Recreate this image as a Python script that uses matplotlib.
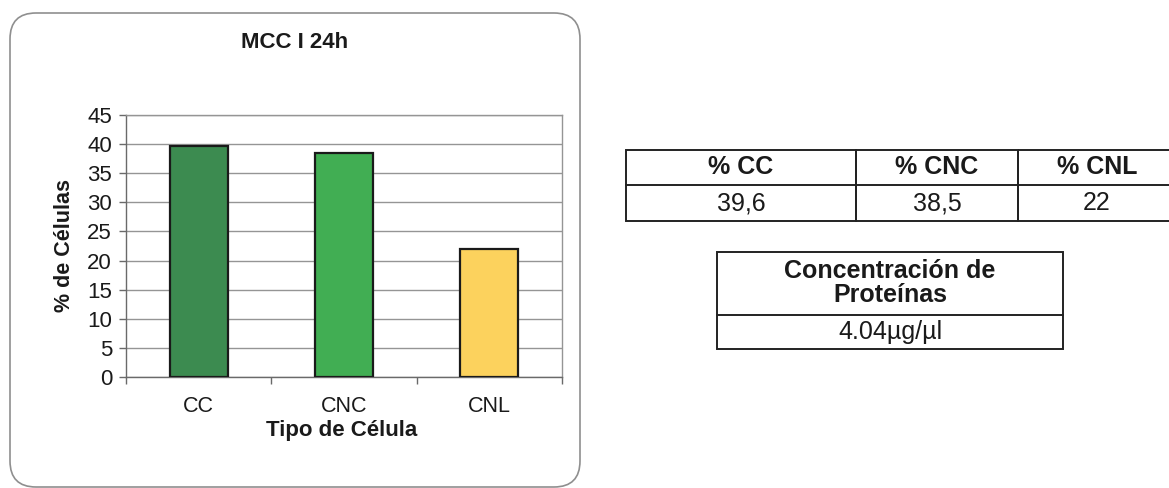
import matplotlib
matplotlib.use("Agg")
import matplotlib.pyplot as plt
from matplotlib.patches import FancyBboxPatch, Rectangle

plt.rcParams["font.family"] = ["Liberation Sans", "DejaVu Sans"]

# Chart data
categories = ["CC", "CNC", "CNL"]
percent = [39.6, 38.5, 22]
bar_colors = ["#3c8b50", "#41ae53", "#fcd25d"]

# Table data
table_headers = ["% CC", "% CNC", "% CNL"]
protein_header = ["Concentración de", "Proteínas"]
protein_conc = 4.04

W, H = 1169, 488
fig = plt.figure(figsize=(W / 100, H / 100), dpi=100)

# Background layer in pixel coordinates (y down), for the chart frame and tables.
bg = fig.add_axes([0, 0, 1, 1], zorder=0)
bg.set_xlim(0, W)
bg.set_ylim(H, 0)
bg.axis("off")

frame = FancyBboxPatch((10, 13), 570, 474,
                       boxstyle="round,pad=0,rounding_size=26",
                       facecolor="white", edgecolor="#8f8f8f", linewidth=1.2)
bg.add_patch(frame)

fig.text(295 / W, 1 - 42 / H, "MCC I 24h", ha="center", va="center",
         fontsize=16, fontweight="bold", color="#1a1a1a")

# Bar chart
ax = fig.add_axes([126 / W, 1 - 377 / H, 436 / W, 262 / H], zorder=2)
ax.set_facecolor("none")
x = list(range(len(categories)))
ax.bar(x, percent, width=0.4, color=bar_colors, edgecolor="#1a1a1a",
       linewidth=1.6, zorder=3)
ax.set_xlim(-0.5, len(categories) - 0.5)
ax.set_ylim(0, 45)
ax.set_yticks(range(0, 46, 5))
ax.set_xticks(x)
ax.set_xticklabels(categories)
ax.set_xticks([i - 0.5 for i in range(len(categories) + 1)], minor=True)

ax.grid(axis="y", color="#959595", linewidth=1.0, zorder=1)
ax.set_axisbelow(True)
for s in ax.spines.values():
    s.set_color("#959595")
    s.set_linewidth(1.0)
ax.spines["left"].set_color("#6a6a6a")
ax.spines["bottom"].set_color("#6a6a6a")

ax.tick_params(axis="y", direction="out", length=5, width=1, color="#6a6a6a",
               labelsize=16, pad=5, labelcolor="#1a1a1a")
ax.tick_params(axis="x", which="major", length=0, labelsize=15.5, pad=14,
               labelcolor="#1a1a1a")
ax.tick_params(axis="x", which="minor", direction="out", length=5, width=1,
               color="#6a6a6a")

ax.set_ylabel("% de Células", fontsize=15.5, fontweight="bold", color="#1a1a1a")
ax.set_xlabel("Tipo de Célula", fontsize=16, fontweight="bold", color="#1a1a1a")
ax.yaxis.set_label_coords(-0.142, 0.5)
ax.xaxis.set_label_coords(0.495, -0.205)
ax.xaxis.label.set_va("center")
ax.yaxis.label.set_va("center")

# Table of percentages
col_edges = [626, 856, 1018, 1176]
row_edges = [150, 185, 221]
line_kw = dict(color="#222222", linewidth=1.4)
values = [f"{v:g}".replace(".", ",") for v in percent]
for i, (head, val) in enumerate(zip(table_headers, values)):
    x0, x1 = col_edges[i], col_edges[i + 1]
    bg.add_patch(Rectangle((x0, row_edges[0]), x1 - x0, row_edges[2] - row_edges[0],
                           fill=False, edgecolor="#222222", linewidth=1.4))
    cx = (x0 + x1) / 2
    bg.text(cx, (row_edges[0] + row_edges[1]) / 2, head, ha="center", va="center",
            fontsize=18, fontweight="bold", color="#1a1a1a")
    bg.text(cx, (row_edges[1] + row_edges[2]) / 2, val, ha="center", va="center",
            fontsize=18, color="#1a1a1a")
bg.plot([col_edges[0], col_edges[-1]], [row_edges[1], row_edges[1]], **line_kw)

# Protein concentration table
px0, px1 = 717, 1063
py = [252, 315, 349]
bg.add_patch(Rectangle((px0, py[0]), px1 - px0, py[2] - py[0],
                       fill=False, edgecolor="#222222", linewidth=1.4))
bg.plot([px0, px1], [py[1], py[1]], **line_kw)
pcx = (px0 + px1) / 2
bg.text(pcx, (py[0] + py[1]) / 2, "\n".join(protein_header), ha="center",
        va="center", fontsize=18, fontweight="bold", color="#1a1a1a",
        linespacing=1.0)
bg.text(pcx, (py[1] + py[2]) / 2, f"{protein_conc:.2f}\u00b5g/\u00b5l",
        ha="center", va="center", fontsize=18, color="#1a1a1a")

fig.savefig("out.png", dpi=100, facecolor="white")
